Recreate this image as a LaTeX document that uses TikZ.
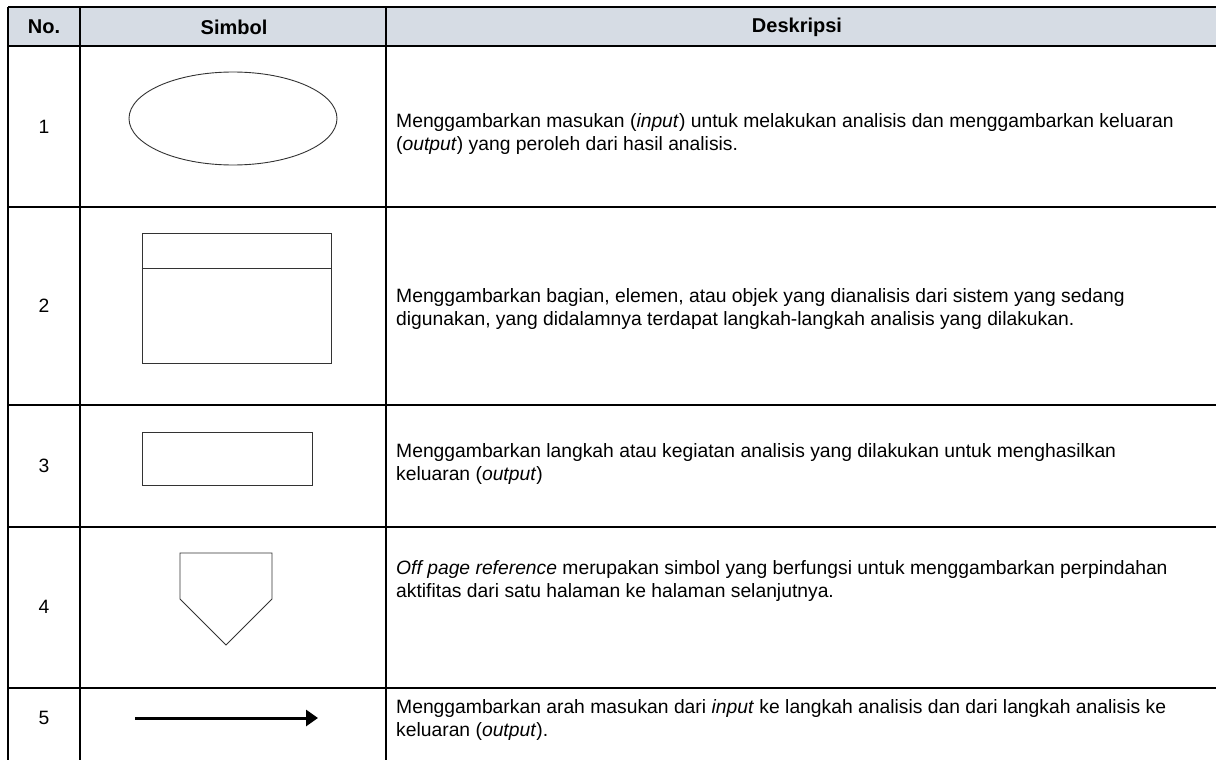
\documentclass[tikz,border=0pt]{standalone}
\usepackage{fontspec}
\setmainfont{Liberation Sans}
\usepackage{tikz}
\usetikzlibrary{shapes.geometric}
\usetikzlibrary{arrows.meta}

\definecolor{headfill}{HTML}{D6DCE4}

\begin{document}
\begin{tikzpicture}[x=1pt, y=-1pt,
    grid/.style={line width=2.6pt},
    symbol/.style={draw=black!80, line width=0.9pt},
    txt/.style={font=\fontsize{19.3}{22.3}\selectfont, inner sep=0pt},
    head/.style={txt, font=\fontsize{20}{22.5}\selectfont\bfseries},
    desc/.style={txt, anchor=west, align=left}]
                \useasboundingbox (0,0) rectangle (1216,760);

                % Header
                \fill[headfill] (8,7) rectangle (1216,46);
                \node[head] (hno) at (44,27) {No.};
                \node[head] (hsym) at (234,27) {Simbol};
                \node[head] (hdesc) at (797,27) {Deskripsi};

                % Grid
                \draw[grid] (8,7) -- (1216,7);
                \draw[grid] (8,46) -- (1216,46);
                \draw[grid] (8,207) -- (1216,207);
                \draw[grid] (8,405) -- (1216,405);
                \draw[grid] (8,527) -- (1216,527);
                \draw[grid] (8,688) -- (1216,688);
                \draw[grid] (8,7) -- (8,760);
                \draw[grid] (80,7) -- (80,760);
                \draw[grid] (386,7) -- (386,760);

                % Row Numbers
                \foreach \i/\y in {1/127,2/306,3/466,4/607,5/718}
                    \node[txt] (num\i) at (44,\y) {\i};

                % Symbols
                \node[symbol, ellipse, minimum width=208pt, minimum height=93pt] (terminal) at (233,118.5) {};
                \node[symbol, rectangle, minimum width=189pt, minimum height=130pt] (partbox) at (236.5,298) {};
                \draw[symbol] ([yshift=-36pt]partbox.north west) -- ([yshift=-36pt]partbox.north east);
                \node[symbol, rectangle, minimum width=170pt, minimum height=53pt] (stepbox) at (227,458.5) {};
                \draw[symbol] (180,553) -- (272,553) -- (272,599) -- (226,645) -- (180,599) -- cycle;
                \coordinate (flowstart) at (135,718);
                \coordinate (flowend) at (318,718);
                \draw[line width=3pt, -{Triangle[length=12pt, width=16pt]}] (flowstart) -- (flowend);

                % Descriptions
                \node[desc] (desc1) at (396,134) {Menggambarkan masukan (\textit{input}) untuk melakukan analisis dan menggambarkan keluaran\\(\textit{output}) yang peroleh dari hasil analisis.};
                \node[desc] (desc2) at (396,309) {Menggambarkan bagian, elemen, atau objek yang dianalisis dari sistem yang sedang\\digunakan, yang didalamnya terdapat langkah-langkah analisis yang dilakukan.};
                \node[desc] (desc3) at (396,464) {Menggambarkan langkah atau kegiatan analisis yang dilakukan untuk menghasilkan\\keluaran (\textit{output})};
                \node[desc] (desc4) at (396,581) {\textit{Off page reference} merupakan simbol yang berfungsi untuk menggambarkan perpindahan\\aktifitas dari satu halaman ke halaman selanjutnya.};
                \node[desc] (desc5) at (396,720) {Menggambarkan arah masukan dari \textit{input} ke langkah analisis dan dari langkah analisis ke\\keluaran (\textit{output}).};
            \end{tikzpicture}
\end{document}
